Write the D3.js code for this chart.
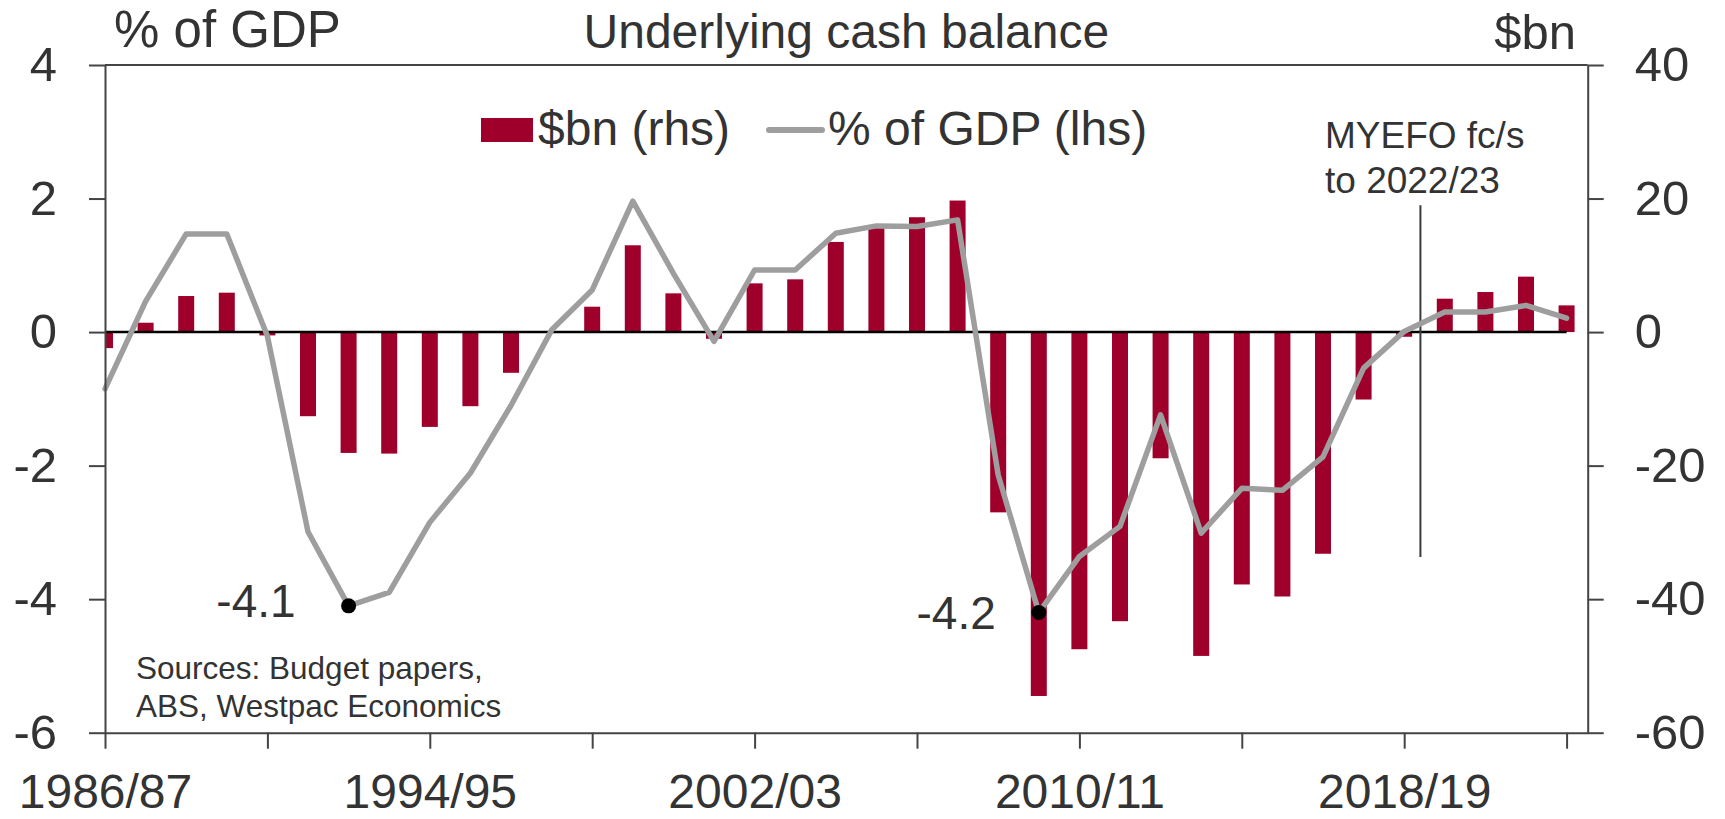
<!DOCTYPE html>
<html>
<head>
<meta charset="utf-8">
<script src="https://cdn.jsdelivr.net/npm/d3@7"></script>
<style>
  body { margin: 0; background: #fff; }
  svg text { font-family: "Liberation Sans", Arial, sans-serif; fill: #333; }
  .axis path, .axis line { stroke: #444; stroke-width: 2; }
</style>
</head>
<body>
<div id="chart"></div>
<script>
// financial years, by starting year (1986 = 1986/87)
var years = [1986, 1987, 1988, 1989, 1990, 1991, 1992, 1993, 1994, 1995, 1996, 1997, 1998,
  1999, 2000, 2001, 2002, 2003, 2004, 2005, 2006, 2007, 2008, 2009, 2010, 2011, 2012,
  2013, 2014, 2015, 2016, 2017, 2018, 2019, 2020, 2021, 2022];

// underlying cash balance, $bn (rhs)
var cashBn = [-2.4, 1.4, 5.4, 5.9, -0.5, -12.6, -18.1, -18.2, -14.2, -11.1, -6.1, 0.0, 3.8,
  13.0, 5.8, -1.0, 7.3, 7.9, 13.5, 15.7, 17.2, 19.7, -27.0, -54.5, -47.5, -43.3, -18.9,
  -48.5, -37.8, -39.6, -33.2, -10.1, -0.7, 5.0, 6.0, 8.3, 4.0];

// underlying cash balance, % of GDP (lhs)
var pctGdp = [-0.85, 0.46, 1.47, 1.47, -0.06, -2.99, -4.1, -3.9, -2.85, -2.11, -1.1, 0.03, 0.63,
  1.96, 0.88, -0.14, 0.93, 0.93, 1.48, 1.59, 1.58, 1.68, -2.14, -4.2, -3.36, -2.91, -1.24,
  -3.01, -2.34, -2.37, -1.87, -0.54, 0.01, 0.30, 0.30, 0.40, 0.21];

var xTicks = [1986, 1990, 1994, 1998, 2002, 2006, 2010, 2014, 2018, 2022];
var xLabelYears = [1986, 1994, 2002, 2010, 2018];
var leftTicks = [-6, -4, -2, 0, 2, 4];
var rightTicks = [-60, -40, -20, 0, 20, 40];

// labelled troughs
var troughs = [
  { year: 1992, label: "-4.1" },
  { year: 2009, label: "-4.2" }
];

var width = 1725, height = 819;
var plot = { left: 105, right: 1587.7, top: 65, bottom: 732.7 };

var svg = d3.select("#chart").append("svg")
  .attr("width", width)
  .attr("height", height);

var x = d3.scaleLinear().domain([1986, 2022.52]).range([plot.left, plot.right]);
var yL = d3.scaleLinear().domain([-6, 4]).range([plot.bottom, plot.top]);
var yR = d3.scaleLinear().domain([-60, 40]).range([plot.bottom, plot.top]);

var data = years.map(function(y, i) {
  return { year: y, bn: cashBn[i], pct: pctGdp[i] };
});

svg.append("clipPath").attr("id", "plotclip")
  .append("rect")
  .attr("x", plot.left).attr("y", plot.top)
  .attr("width", plot.right - plot.left).attr("height", plot.bottom - plot.top);

// bars
var barW = 16;
svg.append("g")
  .attr("clip-path", "url(#plotclip)")
  .selectAll("rect")
  .data(data)
  .enter().append("rect")
  .attr("x", function(d) { return x(d.year) - barW / 2; })
  .attr("width", barW)
  .attr("y", function(d) { return yR(Math.max(0, d.bn)); })
  .attr("height", function(d) { return Math.abs(yR(d.bn) - yR(0)); })
  .attr("fill", "#9f002b");

// zero line
svg.append("line")
  .attr("x1", x(years[0])).attr("x2", x(years[years.length - 1]))
  .attr("y1", yL(0)).attr("y2", yL(0))
  .attr("stroke", "#000").attr("stroke-width", 2.5);

// MYEFO marker
svg.append("line")
  .attr("x1", x(2018.4)).attr("x2", x(2018.4))
  .attr("y1", yL(1.9)).attr("y2", yL(-3.37))
  .attr("stroke", "#3a3a3a").attr("stroke-width", 2);

svg.append("text")
  .attr("x", 1325).attr("y", 148)
  .style("font-size", "37px")
  .text("MYEFO fc/s");
svg.append("text")
  .attr("x", 1325).attr("y", 193)
  .style("font-size", "37px")
  .text("to 2022/23");

// % of GDP line
var line = d3.line()
  .x(function(d) { return x(d.year); })
  .y(function(d) { return yL(d.pct); });

svg.append("path")
  .datum(data)
  .attr("d", line)
  .attr("fill", "none")
  .attr("stroke", "#9e9e9e")
  .attr("stroke-width", 5.5)
  .attr("stroke-linejoin", "round")
  .attr("stroke-linecap", "round");

// trough dots and labels
var tr = troughs.map(function(t) {
  return { year: t.year, label: t.label, pct: pctGdp[years.indexOf(t.year)] };
});
svg.selectAll(".dot")
  .data(tr)
  .enter().append("circle")
  .attr("class", "dot")
  .attr("cx", function(d) { return x(d.year); })
  .attr("cy", function(d) { return yL(d.pct); })
  .attr("r", 7.5)
  .attr("fill", "#000");

svg.selectAll(".troughlabel")
  .data(tr)
  .enter().append("text")
  .attr("class", "troughlabel")
  .attr("x", function(d, i) { return x(d.year) - (i == 0 ? 53 : 43); })
  .attr("y", function(d, i) { return yL(d.pct) + (i == 0 ? 11 : 16); })
  .attr("text-anchor", "end")
  .style("font-size", "46px")
  .text(function(d) { return d.label; });

// axes
var plain = function(d) { return String(d); };

var leftAxis = svg.append("g")
  .attr("class", "axis")
  .attr("transform", "translate(" + plot.left + ",0)")
  .call(d3.axisLeft(yL).tickValues(leftTicks).tickFormat(plain)
    .tickSize(16).tickSizeOuter(0).tickPadding(32));

var rightAxis = svg.append("g")
  .attr("class", "axis")
  .attr("transform", "translate(" + plot.right + ",0)")
  .call(d3.axisRight(yR).tickValues(rightTicks).tickFormat(plain)
    .tickSize(16).tickSizeOuter(0).tickPadding(31));

var bottomAxis = svg.append("g")
  .attr("class", "axis")
  .attr("transform", "translate(0," + plot.bottom + ")")
  .call(d3.axisBottom(x).tickValues(xTicks).tickSize(16).tickSizeOuter(0).tickPadding(25)
    .tickFormat(function(d) {
      if (xLabelYears.indexOf(d) < 0) return "";
      return d + "/" + String((d + 1) % 100).padStart(2, "0");
    }));

[leftAxis, rightAxis].forEach(function(g) {
  g.selectAll("text").style("font-size", "49px").attr("fill", "#333");
});
bottomAxis.selectAll("text").style("font-size", "48px").attr("fill", "#333");
svg.selectAll(".axis .domain").attr("stroke", "#444").attr("stroke-width", 2);

// top border
svg.append("line")
  .attr("x1", plot.left).attr("x2", plot.right)
  .attr("y1", plot.top).attr("y2", plot.top)
  .attr("stroke", "#444").attr("stroke-width", 2);

// titles
svg.append("text")
  .attr("x", 114).attr("y", 47)
  .style("font-size", "51px")
  .text("% of GDP");

svg.append("text")
  .attr("x", (plot.left + plot.right) / 2).attr("y", 48)
  .attr("text-anchor", "middle")
  .style("font-size", "48px")
  .text("Underlying cash balance");

svg.append("text")
  .attr("x", 1576).attr("y", 49)
  .attr("text-anchor", "end")
  .style("font-size", "49px")
  .text("$bn");

// legend
svg.append("rect")
  .attr("x", 481).attr("y", 118).attr("width", 52).attr("height", 24)
  .attr("fill", "#9f002b");
svg.append("text")
  .attr("x", 538).attr("y", 145)
  .style("font-size", "48px")
  .text("$bn (rhs)");
svg.append("line")
  .attr("x1", 769).attr("x2", 822)
  .attr("y1", 130).attr("y2", 130)
  .attr("stroke", "#9e9e9e").attr("stroke-width", 6)
  .attr("stroke-linecap", "round");
svg.append("text")
  .attr("x", 828).attr("y", 145)
  .style("font-size", "48px")
  .text("% of GDP (lhs)");

// sources
svg.append("text")
  .attr("x", 136).attr("y", 679)
  .style("font-size", "31.5px")
  .text("Sources: Budget papers,");
svg.append("text")
  .attr("x", 136).attr("y", 717)
  .style("font-size", "31.5px")
  .text("ABS, Westpac Economics");
</script>
</body>
</html>
